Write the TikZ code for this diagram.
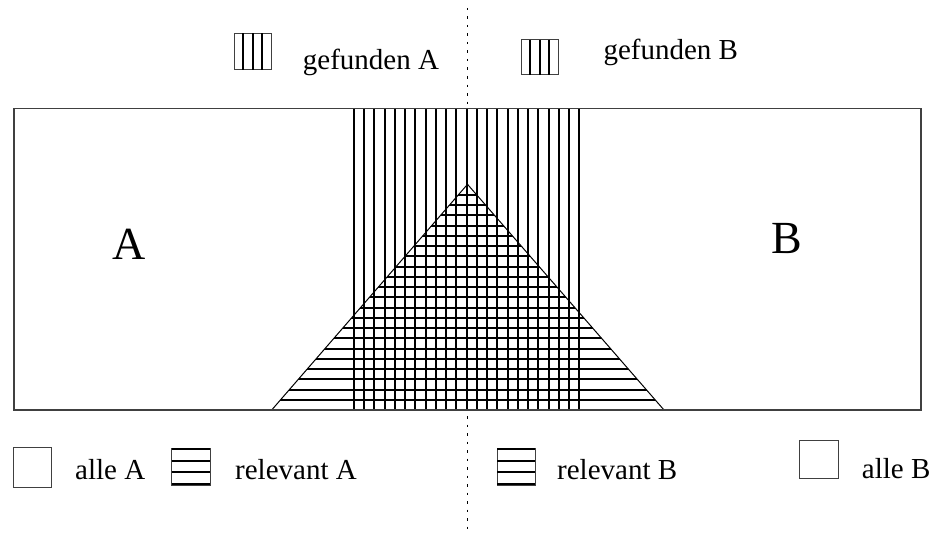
\documentclass[tikz,border=0pt]{standalone}
\usepackage{fontspec}
\setmainfont{Liberation Serif}
\begin{document}
\begin{tikzpicture}[x=1pt,y=-1pt,
  frame/.style={draw=black!75,line width=1.3pt},
  hatch/.style={line width=2pt},
  legbox/.style={draw=black!75,line width=0.9pt},
  legline/.style={line width=2pt},
  leg/.style={font=\fontsize{29}{33}\selectfont,inner sep=0pt,anchor=base west},
  big/.style={font=\fontsize{46}{50}\selectfont,inner sep=0pt,anchor=base west},
  centreline/.style={line width=1pt,dash pattern=on 2.5pt off 6pt}]
\useasboundingbox (0,0) rectangle (934,535);
% centre dotted line
\coordinate (ctop) at (467,8);
\coordinate (cbot) at (467,530);
\draw[centreline] (ctop) -- (cbot);
% main rectangle
\draw[frame,fill=white] (14,108.5) rectangle (921,410);
% triangle with horizontal hatching (relevant)
\coordinate (tl) at (271.7,410);
\coordinate (tt) at (467.5,184.3);
\coordinate (tr) at (664,410);
\begin{scope}
\clip (tl) -- (tt) -- (tr) -- cycle;
\foreach \k in {0,...,22} \draw[hatch] (260,{410-10.25*\k}) -- (680,{410-10.25*\k});
\end{scope}
\draw[line width=1pt] (tl) -- (tt) -- (tr);
% vertical hatching (gefunden)
\foreach \k in {0,...,22} \draw[hatch] ({354+10.24*\k},108.5) -- ({354+10.24*\k},410);
\draw[frame] (14,108.5) rectangle (921,410);
% big letters
\node[big] (bigA) at (112.7,259.3) {A};
\node[big] (bigB) at (771,253) {B};
% legend: gefunden A
\draw[legbox] (234,33.4) rectangle (271,69.7);
\foreach \x in {243.4,252.6,261.8} \draw[legline] (\x,33.4) -- (\x,69.7);
\node[leg] (gefA) at (302.7,69.3) {gefunden A};
% legend: gefunden B
\draw[legbox] (521,39.7) rectangle (558,74.8);
\foreach \x in {530.3,539.5,548.8} \draw[legline] (\x,39.7) -- (\x,74.8);
\node[leg] (gefB) at (603.3,59.3) {gefunden B};
% legend: alle A
\draw[legbox] (13,447) rectangle (51,487);
\node[leg] (alleA) at (75,479.3) {alle A};
% legend: relevant A
\draw[legbox] (171.7,448.3) rectangle (210,485);
\foreach \y in {449.2,460.7,472.3,483.6} \draw[legline] (171.7,\y) -- (210,\y);
\node[leg] (relA) at (235,479.3) {relevant A};
% legend: relevant B
\draw[legbox] (497,448.3) rectangle (535,485);
\foreach \y in {449.2,460.7,472.3,483.6} \draw[legline] (497,\y) -- (535,\y);
\node[leg] (relB) at (557,479.3) {relevant B};
% legend: alle B
\draw[legbox] (799.3,440) rectangle (838.3,478.3);
\node[leg] (alleB) at (861.7,478.3) {alle B};
\end{tikzpicture}
\end{document}
